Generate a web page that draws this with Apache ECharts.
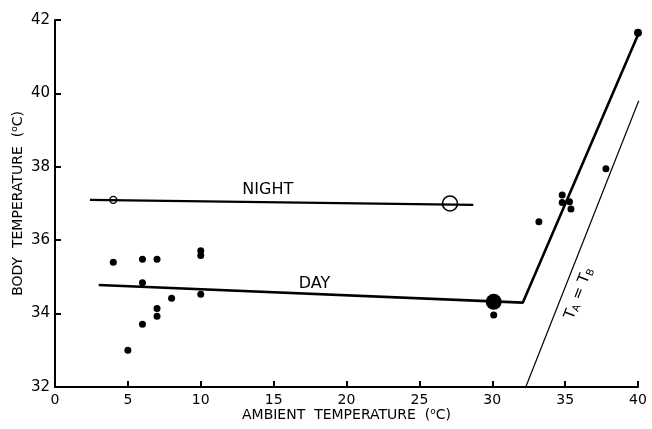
<!DOCTYPE html>
<html><head><meta charset="utf-8">
<script src="https://cdn.jsdelivr.net/npm/echarts@6/dist/echarts.min.js"></script>
<style>html,body{margin:0;padding:0;background:#fff}#c{width:652px;height:429px}</style>
</head><body><div id="c"></div>
<script>
// ---- data ----
const xTicks = [0, 5, 10, 15, 20, 25, 30, 35, 40];
const yTicks = [32, 34, 36, 38, 40, 42];
// small filled dots (individual day measurements)
const dayDotsX = [4, 6, 7, 10, 10, 6, 8, 10, 7, 7, 6, 5, 30.1, 33.2, 34.8, 34.8, 35.3, 35.4, 37.8];
const dayDotsY = [35.4, 35.48, 35.48, 35.71, 35.58, 34.84, 34.42, 34.53, 34.14, 33.93, 33.71, 33.0, 33.96, 36.5, 37.23, 37.03, 37.05, 36.85, 37.95];
// day fitted line
const dayLineX = [3.0, 32.1, 40.0];
const dayLineY = [34.78, 34.3, 41.6];
// day large mean point and top point
const dayMeanX = [30.1];
const dayMeanY = [34.32];
const dayTopX = [40.0];
const dayTopY = [41.65];
// night line
const nightLineX = [2.4, 28.7];
const nightLineY = [37.1, 36.96];
const nightSmallX = [4.0];
const nightSmallY = [37.1];
const nightMeanX = [27.1];
const nightMeanY = [37.0];
// Ta = Tb line
const identityX = [32.3, 40.05];
const identityY = [32.0, 39.8];
// text labels
const labelNight = {x: 14.6, y: 37.38, text: 'NIGHT'};
const labelDay = {x: 17.8, y: 34.8, text: 'DAY'};
const labelIdent = {x: 35.95, y: 34.55};

const zip = (a, b) => a.map((v, i) => [v, b[i]]);
const FONT = 'DejaVu Sans';

const chart = echarts.init(document.getElementById('c'), null, {renderer: 'canvas'});
chart.setOption({
  animation: false,
  backgroundColor: '#fff',
  grid: {left: 55, right: 14, top: 20, bottom: 42, containLabel: false, outerBoundsMode: 'none'},
  xAxis: {
    type: 'value', min: 0, max: 40, interval: 5,
    name: '{t|AMBIENT  TEMPERATURE  (}{s|o}{t|C)}',
    nameLocation: 'middle', nameGap: 20, nameMoveOverlap: false,
    nameTextStyle: {rich: {
      t: {fontFamily: FONT, fontSize: 14, color: '#000'},
      s: {fontFamily: FONT, fontSize: 9, color: '#000', verticalAlign: 'top', padding: [0, 0, 7, 0]}
    }},
    axisLine: {lineStyle: {color: '#000', width: 2}},
    axisTick: {inside: true, length: 6, lineStyle: {color: '#000', width: 2}},
    axisLabel: {color: '#000', fontFamily: FONT, fontSize: 14, margin: 6},
    splitLine: {show: false}
  },
  yAxis: {
    type: 'value', min: 32, max: 42, interval: 2,
    name: '{t|BODY  TEMPERATURE  (}{s|o}{t|C)}',
    nameLocation: 'middle', nameGap: 29, nameRotate: 90, nameMoveOverlap: false,
    nameTextStyle: {rich: {
      t: {fontFamily: FONT, fontSize: 14, color: '#000'},
      s: {fontFamily: FONT, fontSize: 9, color: '#000', padding: [0, 0, 7, 0]}
    }},
    axisLine: {show: true, lineStyle: {color: '#000', width: 2}},
    axisTick: {show: true, inside: true, length: 6, lineStyle: {color: '#000', width: 2}},
    axisLabel: {color: '#000', fontFamily: FONT, fontSize: 15, margin: 5},
    splitLine: {show: false}
  },
  series: [
    {type: 'line', data: zip(identityX, identityY), symbol: 'none', silent: true,
     lineStyle: {color: '#000', width: 1.2}},
    {type: 'line', data: zip(dayLineX, dayLineY), symbol: 'none', silent: true,
     lineStyle: {color: '#000', width: 2.6}},
    {type: 'line', data: zip(nightLineX, nightLineY), symbol: 'none', silent: true,
     lineStyle: {color: '#000', width: 2.2}},
    {type: 'scatter', data: zip(dayDotsX, dayDotsY), symbol: 'circle', symbolSize: 7,
     itemStyle: {color: '#000', opacity: 1}},
    {type: 'scatter', data: zip(dayTopX, dayTopY), symbol: 'circle', symbolSize: 8,
     itemStyle: {color: '#000', opacity: 1}},
    {type: 'scatter', data: zip(dayMeanX, dayMeanY), symbol: 'circle', symbolSize: 16,
     itemStyle: {color: '#000', opacity: 1}},
    {type: 'scatter', data: zip(nightSmallX, nightSmallY), symbol: 'circle', symbolSize: 7,
     itemStyle: {color: '#fff', borderColor: '#000', borderWidth: 1.3, opacity: 1}},
    {type: 'scatter', data: zip(nightMeanX, nightMeanY), symbol: 'circle', symbolSize: 15,
     itemStyle: {color: '#fff', borderColor: '#000', borderWidth: 1.6, opacity: 1}},
    {type: 'scatter', symbolSize: 0, silent: true,
     data: [[labelNight.x, labelNight.y], [labelDay.x, labelDay.y]],
     itemStyle: {opacity: 1},
     label: {show: true, position: 'inside', color: '#000', fontFamily: FONT, fontSize: 16,
       formatter: p => p.dataIndex === 0 ? labelNight.text : labelDay.text}},
    {type: 'scatter', symbolSize: 0, silent: true,
     data: [[labelIdent.x, labelIdent.y]],
     itemStyle: {opacity: 1},
     label: {show: true, position: 'inside', rotate: 68.6, color: '#000',
       formatter: '{t|T}{s|A}{t| = T}{s|B}',
       rich: {
         t: {fontFamily: FONT, fontSize: 15, color: '#000'},
         s: {fontFamily: FONT, fontSize: 10, color: '#000', padding: [7, 0, 0, 0]}
       }}}
  ]
});
</script></body></html>
